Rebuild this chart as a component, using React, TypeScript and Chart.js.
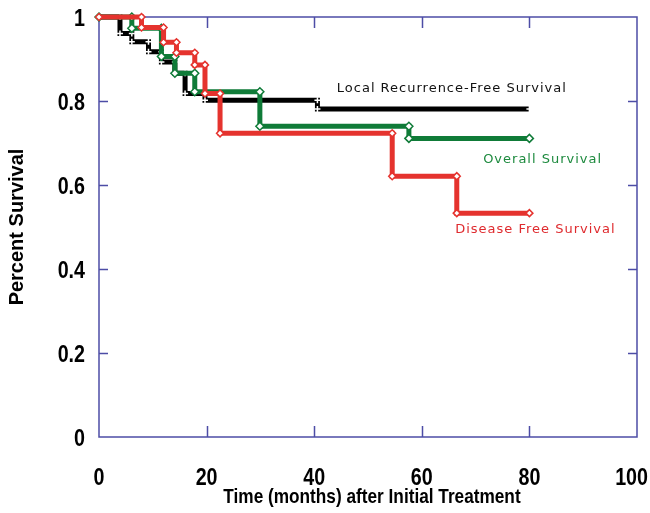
import React, { useEffect, useRef } from 'react';
import { Chart, registerables } from 'chart.js';

Chart.register(...registerables);

// ---- data ----
const followUpEnd = 80;

const lrfsTimes = [3.9, 6.1, 9.2, 11.6, 14.1, 16.0, 19.7, 40.6];
const lrfsSurv = [0.961, 0.941, 0.917, 0.893, 0.866, 0.818, 0.802, 0.781];

const osTimes = [6.1, 11.6, 14.1, 17.8, 29.9, 57.6];
const osSurv = [0.973, 0.906, 0.866, 0.822, 0.74, 0.711];

const dfsTimes = [7.9, 12.0, 14.4, 17.8, 19.7, 22.5, 54.5, 66.5];
const dfsSurv = [0.975, 0.94, 0.915, 0.886, 0.818, 0.723, 0.621, 0.533];

const seriesLabels = ['Local Recurrence-Free Survival', 'Overall Survival', 'Disease Free Survival'];

const xTickValues = [0, 20, 40, 60, 80, 100];
const xTickLabels = ['0', '20', '40', '60', '80', '100'];
const yTickValues = [0, 0.2, 0.4, 0.6, 0.8, 1];
const yTickLabels = ['0', '0.2', '0.4', '0.6', '0.8', '1'];

const xTitle = 'Time (months) after Initial Treatment';
const yTitle = 'Percent Survival';

// ---- helpers ----
function kmPoints(times: number[], surv: number[], end: number) {
  const pts: { x: number; y: number }[] = [{ x: 0, y: 1 }];
  let prev = 1;
  times.forEach((t, i) => {
    pts.push({ x: t, y: prev });
    pts.push({ x: t, y: surv[i] });
    prev = surv[i];
  });
  pts.push({ x: end, y: prev });
  return pts;
}

const AXIS_COLOR = '#4d4da6';
const BLACK = '#000000';
const GREEN = '#0f7b38';
const RED = '#e5332e';
const NARROW = 0.82; // horizontal compression to mimic a narrow bold face
const BOLD_FONT = '"Liberation Sans", Arial, sans-serif';

function narrowText(ctx: any, text: string, x: number, y: number, size: number, align: string, maxRight?: number) {
  ctx.save();
  ctx.font = `bold ${size}px ${BOLD_FONT}`;
  let cx = x;
  if (maxRight !== undefined && align === 'center') {
    const half = (ctx.measureText(text).width * NARROW) / 2;
    if (cx + half > maxRight) cx = maxRight - half;
  }
  ctx.translate(cx, y);
  ctx.scale(NARROW, 1);
  ctx.textAlign = align;
  ctx.textBaseline = 'alphabetic';
  ctx.fillStyle = '#000000';
  ctx.fillText(text, 0, 0);
  ctx.restore();
}

const framePlugin = {
  id: 'frameTicks',
  beforeDatasetsDraw(chart: any) {
    const { ctx, chartArea } = chart;
    const xs = chart.scales.x;
    const ys = chart.scales.y;
    const { left, right, top, bottom } = chartArea;
    ctx.save();
    ctx.strokeStyle = AXIS_COLOR;
    ctx.lineWidth = 1.5;
    ctx.strokeRect(left, top, right - left, bottom - top);
    const len = 11;
    ctx.beginPath();
    xTickValues.forEach((v) => {
      if (v === xs.min || v === xs.max) return;
      const px = Math.round(xs.getPixelForValue(v)) + 0.5;
      ctx.moveTo(px, bottom);
      ctx.lineTo(px, bottom - len);
      ctx.moveTo(px, top);
      ctx.lineTo(px, top + len);
    });
    yTickValues.forEach((v) => {
      if (v === ys.min || v === ys.max) return;
      const py = Math.round(ys.getPixelForValue(v)) + 0.5;
      ctx.moveTo(left, py);
      ctx.lineTo(left + len - 2, py);
      ctx.moveTo(right, py);
      ctx.lineTo(right - len + 2, py);
    });
    ctx.stroke();
    ctx.restore();
  },
  afterDraw(chart: any) {
    const { ctx, chartArea, width } = chart;
    const xs = chart.scales.x;
    const ys = chart.scales.y;
    xTickValues.forEach((v, i) => {
      narrowText(ctx, xTickLabels[i], xs.getPixelForValue(v), chartArea.bottom + 48, 24, 'center', width - 2);
    });
    yTickValues.forEach((v, i) => {
      narrowText(ctx, yTickLabels[i], chartArea.left - 14, ys.getPixelForValue(v) + 8.5, 24, 'right');
    });
    narrowText(ctx, xTitle, (chartArea.left + chartArea.right) / 2 + 4, chartArea.bottom + 66, 21, 'center');
  },
};

const labelPlugin = {
  id: 'seriesLabels',
  afterDatasetsDraw(chart: any) {
    const { ctx } = chart;
    const xs = chart.scales.x;
    const ys = chart.scales.y;
    const spots = [
      { text: seriesLabels[0], x: 44.2, y: 0.83, color: '#111111' },
      { text: seriesLabels[1], x: 71.4, y: 0.66, color: '#1d8a3e' },
      { text: seriesLabels[2], x: 66.2, y: 0.493, color: '#df2a2e' },
    ];
    ctx.save();
    ctx.font = '13px "DejaVu Sans", sans-serif';
    (ctx as any).letterSpacing = '1px';
    ctx.textAlign = 'left';
    ctx.textBaseline = 'middle';
    spots.forEach((s) => {
      ctx.fillStyle = s.color;
      ctx.fillText(s.text, xs.getPixelForValue(s.x), ys.getPixelForValue(s.y));
    });
    ctx.restore();
  },
};

const bgPlugin = {
  id: 'whiteBg',
  beforeDraw(chart: any) {
    const { ctx, width, height } = chart;
    ctx.save();
    ctx.fillStyle = '#ffffff';
    ctx.fillRect(0, 0, width, height);
    ctx.restore();
  },
};

export default function App() {
  const ref = useRef<HTMLCanvasElement | null>(null);

  useEffect(() => {
    document.body.style.margin = '0';
    if (!ref.current) return;
    const chart = new Chart(ref.current, {
      type: 'scatter',
      data: {
        datasets: [
          {
            label: seriesLabels[2],
            data: kmPoints(dfsTimes, dfsSurv, followUpEnd),
            showLine: true,
            borderColor: RED,
            borderWidth: 5,
            pointStyle: 'rectRot',
            pointRadius: 3.5,
            pointBackgroundColor: '#ffffff',
            pointBorderColor: RED,
            pointBorderWidth: 1.5,
            clip: false,
            order: 1,
          },
          {
            label: seriesLabels[1],
            data: kmPoints(osTimes, osSurv, followUpEnd),
            showLine: true,
            borderColor: GREEN,
            borderWidth: 5,
            pointStyle: 'rectRot',
            pointRadius: 4,
            pointBackgroundColor: '#ffffff',
            pointBorderColor: GREEN,
            pointBorderWidth: 1.5,
            clip: false,
            order: 2,
          },
          {
            label: seriesLabels[0],
            data: kmPoints(lrfsTimes, lrfsSurv, followUpEnd),
            showLine: true,
            borderColor: BLACK,
            borderWidth: 5,
            pointStyle: 'cross',
            pointRadius: 3,
            pointBackgroundColor: '#ffffff',
            pointBorderColor: '#ffffff',
            pointBorderWidth: 1.5,
            clip: false,
            order: 3,
          },
        ] as any,
      },
      options: {
        animation: false,
        responsive: false,
        devicePixelRatio: 1,
        layout: { padding: { left: 0, top: 17, right: 13, bottom: 0 } },
        plugins: {
          legend: { display: false },
          tooltip: { enabled: false },
        },
        scales: {
          x: {
            type: 'linear',
            min: 0,
            max: 100,
            afterBuildTicks: (scale: any) => {
              scale.ticks = xTickValues.map((v) => ({ value: v }));
            },
            afterFit: (scale: any) => {
              scale.height = 76;
            },
            ticks: { display: false },
            grid: { display: false },
            border: { display: false },
            title: { display: false, text: xTitle },
          },
          y: {
            type: 'linear',
            min: 0,
            max: 1,
            afterBuildTicks: (scale: any) => {
              scale.ticks = yTickValues.map((v) => ({ value: v }));
            },
            afterFit: (scale: any) => {
              scale.width = 99;
            },
            ticks: { display: false },
            grid: { display: false },
            border: { display: false },
            title: {
              display: true,
              text: yTitle,
              color: '#000000',
              font: { family: BOLD_FONT, size: 20, weight: 'bold' },
              padding: { top: 5, bottom: 0 },
            },
          },
        },
      } as any,
      plugins: [bgPlugin, framePlugin, labelPlugin],
    });
    return () => chart.destroy();
  }, []);

  return (
    <div style={{ width: 650, height: 513 }}>
      <canvas ref={ref} width={650} height={513} style={{ display: 'block' }} />
    </div>
  );
}
